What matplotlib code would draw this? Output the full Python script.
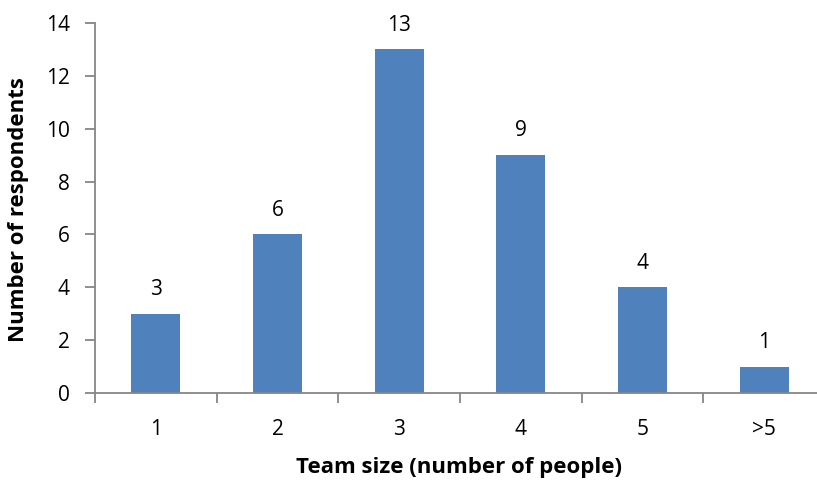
import matplotlib
matplotlib.use("Agg")
import matplotlib.pyplot as plt

categories = ["1", "2", "3", "4", "5", ">5"]
respondents = [3, 6, 13, 9, 4, 1]
y_ticks = [0, 2, 4, 6, 8, 10, 12, 14]

plt.rcParams["font.family"] = ["Open Sans", "DejaVu Sans"]

fig = plt.figure(figsize=(8.17, 4.82), dpi=100)
W, H = 817, 482
left, right, top, bottom = 95, 825, 23, 393
ax = fig.add_axes([left / W, 1 - bottom / H, (right - left) / W, (bottom - top) / H])

bar_color = "#4F81BD"
axis_color = "#868686"

x = range(len(categories))
ax.bar(x, respondents, width=0.4, color=bar_color, zorder=2)
for xi, v in zip(x, respondents):
    ax.annotate(str(v), (xi, v), xytext=(0, 13.5), textcoords="offset points",
                ha="center", va="baseline", fontsize=15, color="black")

ax.set_xlim(-0.5, len(categories) - 0.5)
ax.set_ylim(0, 14)
ax.set_yticks(y_ticks)
ax.set_yticklabels([str(t) for t in y_ticks], fontsize=15)

# category labels centered, tick marks between categories
ax.set_xticks(list(x))
ax.set_xticklabels(categories, fontsize=15)
ax.tick_params(axis="x", length=0, pad=19)
ax.set_xticks([i - 0.5 for i in range(len(categories) + 1)], minor=True)
ax.tick_params(axis="x", which="minor", length=7, width=1.3, color=axis_color, direction="out")
ax.tick_params(axis="y", length=7, width=1.3, color=axis_color, direction="out", pad=11)

for side in ["top", "right"]:
    ax.spines[side].set_visible(False)
for side in ["left", "bottom"]:
    ax.spines[side].set_color(axis_color)
    ax.spines[side].set_linewidth(1.3)

ax.set_xlabel("Team size (number of people)", fontsize=16, fontweight="bold", va="center")
ax.set_ylabel("Number of respondents", fontsize=16, fontweight="bold", va="center")
ax.xaxis.set_label_coords((459 - left) / (right - left), -(467 - bottom) / (bottom - top), transform=ax.transAxes)
ax.yaxis.set_label_coords(-(95 - 19) / (right - left), (393 - 210) / (bottom - top), transform=ax.transAxes)

fig.savefig("out.png", dpi=100)
